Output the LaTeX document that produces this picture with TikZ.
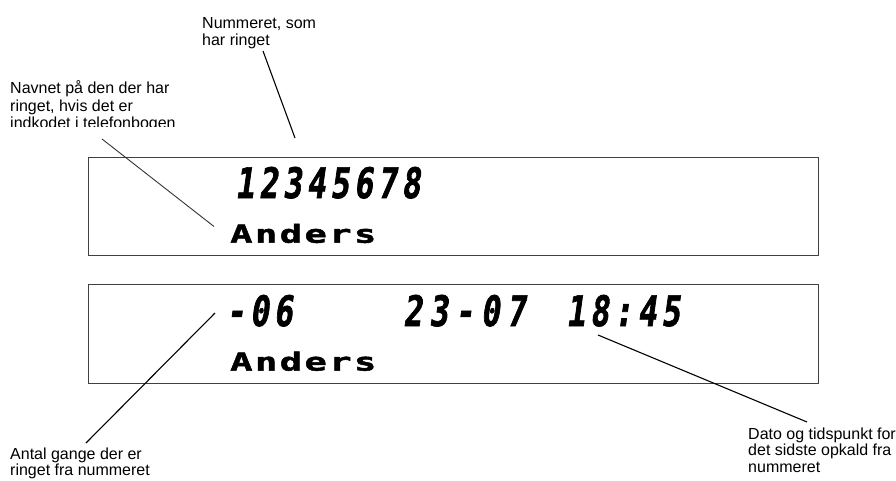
\documentclass[tikz,border=0pt]{standalone}
\usepackage{fontspec}
\setmainfont{Liberation Sans}
\newfontfamily\lcddigits{DejaVu Sans Mono Bold}[FakeSlant=0.14,FakeStretch=0.74,LetterSpace=12,FakeBold=1.6]
\newfontfamily\lcddate{DejaVu Sans Mono Bold}[FakeSlant=0.14,FakeStretch=0.74,LetterSpace=17,FakeBold=1.6]
\newfontfamily\lcdtext{DejaVu Sans Mono Bold}[FakeStretch=1.5,LetterSpace=10,FakeBold=2]
\begin{document}
\begin{tikzpicture}[x=1pt,y=-1pt,
  lbl/.style={inner sep=0pt,anchor=base west,align=left,font=\fontsize{16}{17}\selectfont},
  panel/.style={draw=black!75,line width=1pt},
  digits/.style={inner sep=0pt,anchor=base west,font=\lcddigits\fontsize{42}{42}\selectfont},
  datedigits/.style={inner sep=0pt,anchor=base west,font=\lcddate\fontsize{42}{42}\selectfont},
  dotname/.style={inner sep=0pt,anchor=base west,font=\lcdtext\fontsize{24.7}{25}\selectfont},
  pointer/.style={draw=black,line width=1.1pt}]
\useasboundingbox (0,0) rectangle (896,480);
% panels
\node[panel,minimum width=730pt,minimum height=98.3pt,inner sep=0pt,anchor=north west] (top) at (88,156.7) {};
\node[panel,minimum width=730pt,minimum height=98.3pt,inner sep=0pt,anchor=north west] (bot) at (88,284.3) {};
% LCD content
\node[digits] (num) at (235,198) {12345678};
\node[dotname] (name1) at (230,242.7) {Anders};
\node[digits] (count) at (226,326) {-06};
\node[datedigits] (date) at (403,326) {23-07};
\node[digits] (time) at (566,326) {18:45};
\node[dotname] (name2) at (230,370.5) {Anders};
% labels (base anchor = baseline of last line)
\node[lbl] (lnum) at (202,45.3) {Nummeret, som\\har ringet};
\begin{scope}
\clip (0,0) rectangle (300,126.5);
\node[lbl,font=\fontsize{16}{17.5}\selectfont] (lname) at (10,128.7) {Navnet på den der har\\ringet, hvis det er\\indkodet i telefonbogen};
\end{scope}
\node[lbl,font=\fontsize{16}{16.5}\selectfont] (lcount) at (10,475.8) {Antal gange der er\\ringet fra nummeret};
\node[lbl,font=\fontsize{16}{16.5}\selectfont] (ldate) at (748,472) {Dato og tidspunkt for\\det sidste opkald fra\\nummeret};
% pointer ends
\coordinate (pnumA) at (263,51);
\coordinate (pnumB) at (295,138);
\coordinate (pnameA) at (102,139);
\coordinate (pnameB) at (214,226.5);
\coordinate (pcountA) at (215,313);
\coordinate (pcountB) at (86,443);
\coordinate (pdateA) at (598,335);
\coordinate (pdateB) at (807,422);
\draw[pointer] (pnumA) -- (pnumB);
\draw[pointer,line width=0.9pt,draw=black!80] (pnameA) -- (pnameB);
\draw[pointer] (pcountA) -- (pcountB);
\draw[pointer] (pdateA) -- (pdateB);
\end{tikzpicture}
\end{document}
